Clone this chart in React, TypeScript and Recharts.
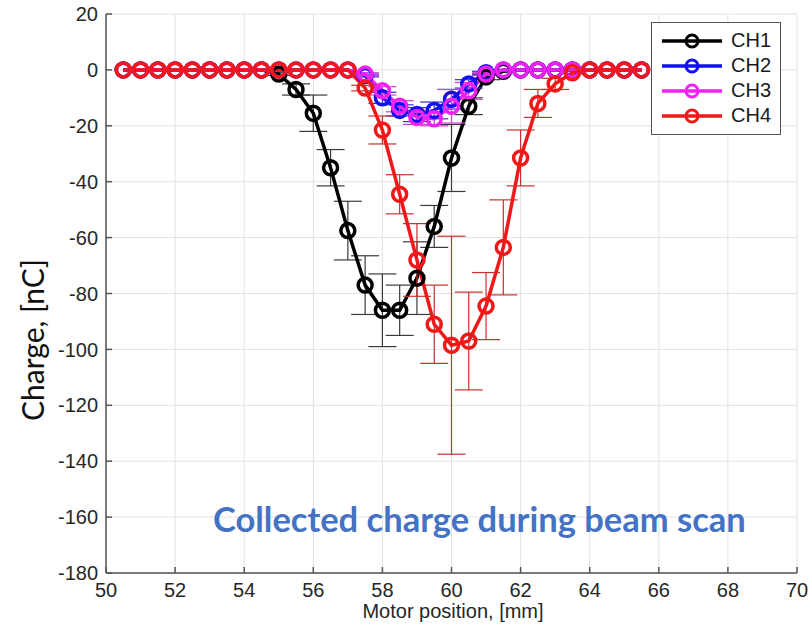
import { LineChart, Line, XAxis, YAxis, CartesianGrid, ErrorBar } from "recharts";

// motor positions, mm
const positions = [
  50.5, 51, 51.5, 52, 52.5, 53, 53.5, 54, 54.5, 55, 55.5, 56, 56.5, 57, 57.5, 58,
  58.5, 59, 59.5, 60, 60.5, 61, 61.5, 62, 62.5, 63, 63.5, 64, 64.5, 65, 65.5,
];

// collected charge, nC
const ch1 = [
  0, 0, 0, 0, 0, 0, 0, 0, 0, -1.5, -7, -15.5, -35, -57.5, -77, -86,
  -86, -74.5, -56, -31.5, -13, -2.5, -0.5, 0, 0, 0, 0, 0, 0, 0, 0,
];
const ch1Err = [
  0, 0, 0, 0, 0, 0, 0, 0, 0, 0.5, 2, 6.5, 6.5, 10.5, 10.5, 13,
  9, 13, 7.5, 12, 3, 1, 0, 0, 0, 0, 0, 0, 0, 0, 0,
];
const ch2 = [
  0, 0, 0, 0, 0, 0, 0, 0, 0, 0, 0, 0, 0, 0, -2, -10,
  -14.5, -16, -14.5, -10.5, -5, -1, 0, 0, 0, 0, 0, 0, 0, 0, 0,
];
const ch2Err = [
  0, 0, 0, 0, 0, 0, 0, 0, 0, 0, 0, 0, 0, 0, 0.5, 2,
  2, 2.5, 3, 3.5, 1.5, 0.5, 0, 0, 0, 0, 0, 0, 0, 0, 0,
];
const ch3 = [
  0, 0, 0, 0, 0, 0, 0, 0, 0, 0, 0, 0, 0, 0, -1.5, -7.5,
  -13, -17, -17.5, -13, -7.5, -1.5, 0, 0, 0, 0, 0, 0, 0, 0, 0,
];
const ch3Err = [
  0, 0, 0, 0, 0, 0, 0, 0, 0, 0, 0, 0, 0, 0, 0.5, 1.5,
  2, 2.5, 2.5, 6, 3, 0.5, 0, 0, 0, 0, 0, 0, 0, 0, 0,
];
const ch4 = [
  0, 0, 0, 0, 0, 0, 0, 0, 0, 0, 0, 0, 0, 0, -6.5, -21.5,
  -44.5, -68, -91, -98.5, -97, -84.5, -63.5, -31.5, -12, -5, -1, 0, 0, 0, 0,
];
const ch4Err = [
  0, 0, 0, 0, 0, 0, 0, 0, 0, 0, 0, 0, 0, 0, 1, 5,
  7, 13, 14, 39, 17.5, 12, 17, 10, 5, 2, 0.5, 0, 0, 0, 0,
];

const xTicks = [50, 52, 54, 56, 58, 60, 62, 64, 66, 68, 70];
const yTicks = [20, 0, -20, -40, -60, -80, -100, -120, -140, -160, -180];

const series = [
  { key: "ch1", name: "CH1", color: "#000000", barColor: "#3a3a3a" },
  { key: "ch2", name: "CH2", color: "#1010f0", barColor: "#3030d0" },
  { key: "ch3", name: "CH3", color: "#f020f0", barColor: "#d040d0" },
  { key: "ch4", name: "CH4", color: "#f01818", barColor: "#c83030" },
];

const data = positions.map((x, i) => ({
  x,
  ch1: ch1[i],
  ch1Err: ch1Err[i],
  ch2: ch2[i],
  ch2Err: ch2Err[i],
  ch3: ch3[i],
  ch3Err: ch3Err[i],
  ch4: ch4[i],
  ch4Err: ch4Err[i],
}));

const tickFont = { fontSize: 20, fill: "#262626", fontFamily: "Liberation Sans, Arial, sans-serif" };

const LegendBox = () => (
  <div
    style={{
      position: "absolute",
      left: 651,
      top: 22,
      width: 130,
      boxSizing: "border-box",
      border: "1px solid #555",
      background: "#fff",
      padding: "5px 8px 6px 8px",
      fontFamily: "Liberation Sans, Arial, sans-serif",
      fontSize: 20,
      color: "#1a1a1a",
    }}
  >
    {series.map((s) => (
      <div key={s.key} style={{ display: "flex", alignItems: "center", height: 25 }}>
        <svg width={64} height={20} style={{ marginRight: 7 }}>
          <line x1={2} y1={10} x2={62} y2={10} stroke={s.color} strokeWidth={3.5} />
          <circle cx={32} cy={10} r={6} stroke={s.color} strokeWidth={3} fill="none" />
        </svg>
        <span>{s.name}</span>
      </div>
    ))}
  </div>
);

export default function App() {
  return (
    <div style={{ position: "absolute", left: 0, top: 0, width: 812, height: 628, background: "#fff" }}>
      <LineChart
        width={812}
        height={628}
        data={data}
        margin={{ top: 14, right: 15, bottom: 0, left: 0 }}
      >
        <CartesianGrid stroke="#e2e2e2" strokeWidth={1} />
        <XAxis
          dataKey="x"
          type="number"
          domain={[50, 70]}
          ticks={xTicks}
          height={55}
          tickSize={-6}
          tickMargin={16}
          stroke="#555"
          strokeWidth={1.5}
          tick={tickFont}
          interval={0}
        />
        <XAxis
          xAxisId="top"
          dataKey="x"
          type="number"
          orientation="top"
          domain={[50, 70]}
          ticks={xTicks}
          height={0}
          tickSize={-6}
          stroke="#555"
          strokeWidth={1.5}
          tick={() => <g />}
        />
        <YAxis
          type="number"
          domain={[-180, 20]}
          ticks={yTicks}
          width={106}
          tickSize={-6}
          tickMargin={14}
          stroke="#555"
          strokeWidth={1.5}
          tick={tickFont}
          interval={0}
        />
        <YAxis
          yAxisId="right"
          orientation="right"
          type="number"
          domain={[-180, 20]}
          ticks={yTicks}
          width={0}
          tickSize={-6}
          stroke="#555"
          strokeWidth={1.5}
          tick={() => <g />}
        />
        {series.map((s) => (
          <Line
            key={s.key}
            dataKey={s.key}
            name={s.name}
            stroke={s.color}
            strokeWidth={3.5}
            dot={{ r: 7, strokeWidth: 3.5, stroke: s.color, fill: "none" }}
            activeDot={false}
            isAnimationActive={false}
          >
            <ErrorBar
              dataKey={s.key + "Err"}
              direction="y"
              width={14}
              stroke={s.barColor}
              strokeWidth={1.2}
            />
          </Line>
        ))}
      </LineChart>
      <LegendBox />
      <div
        style={{
          position: "absolute",
          left: 32,
          top: 340,
          transform: "translate(-50%, -50%) rotate(-90deg)",
          fontFamily: "Lato, sans-serif",
          fontSize: 30,
          color: "#111",
          whiteSpace: "nowrap",
        }}
      >
        Charge, [nC]
      </div>
      <div
        style={{
          position: "absolute",
          left: 453,
          top: 611,
          transform: "translate(-50%, -50%)",
          fontFamily: "Liberation Sans, Arial, sans-serif",
          fontSize: 20,
          color: "#262626",
          whiteSpace: "nowrap",
        }}
      >
        Motor position, [mm]
      </div>
      <div
        style={{
          position: "absolute",
          left: 213,
          top: 498,
          fontFamily: "Lato, sans-serif",
          fontWeight: 700,
          fontSize: 34.5,
          color: "#4472c4",
          whiteSpace: "nowrap",
        }}
      >
        Collected charge during beam scan
      </div>
    </div>
  );
}
